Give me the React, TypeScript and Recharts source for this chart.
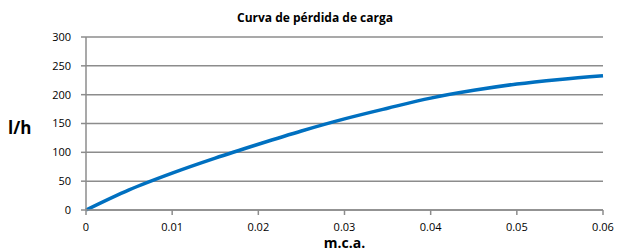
import React from 'react';
import { LineChart, Line, XAxis, YAxis, CartesianGrid } from 'recharts';

const xValues = [0, 0.005, 0.01, 0.015, 0.02, 0.025, 0.03, 0.035, 0.04, 0.045, 0.05, 0.055, 0.06];
const yValues = [0, 35, 64, 90, 114, 137, 158, 176.5, 194, 207.5, 218.5, 226.5, 233];
const xTicks = [0, 0.01, 0.02, 0.03, 0.04, 0.05, 0.06];
const yTicks = [0, 50, 100, 150, 200, 250, 300];
const title = 'Curva de pérdida de carga';
const xTitle = 'm.c.a.';
const yTitle = 'l/h';

const data = xValues.map((x, i) => ({ x, y: yValues[i] }));

const FONT = '"Open Sans", sans-serif';

export default function App() {
  return (
    <div style={{ position: 'absolute', left: 0, top: 0, width: 618, height: 252, background: '#fff' }}>
      <LineChart width={618} height={252} data={data} margin={{ top: 37, right: 15, bottom: 0, left: 0 }}>
        <text x={315} y={19} textAnchor="middle" dominantBaseline="middle" fontFamily={FONT} fontSize={12} fontWeight={700} fill="#000">
          {title}
        </text>
        <CartesianGrid horizontal={true} vertical={false} stroke="#8c8c8c" strokeWidth={1.5} />
        <XAxis
          dataKey="x"
          type="number"
          domain={[0, 0.06]}
          ticks={xTicks}
          height={42}
          tickSize={5}
          tickMargin={8}
          stroke="#8c8c8c"
          strokeWidth={1.5}
          tick={{ fill: '#000', fontSize: 11, fontFamily: FONT }}
          label={{ value: xTitle, position: 'insideBottom', offset: 4, fill: '#000', fontSize: 14, fontWeight: 700, fontFamily: FONT }}
        />
        <YAxis
          type="number"
          domain={[0, 300]}
          ticks={yTicks}
          width={86}
          tickSize={5}
          tickMargin={10}
          stroke="#8c8c8c"
          strokeWidth={1.5}
          tick={{ fill: '#000', fontSize: 11, fontFamily: FONT }}
          label={{ value: yTitle, position: 'insideLeft', offset: 8, dy: 4, fill: '#000', fontSize: 17, fontWeight: 700, fontFamily: FONT }}
        />
        <Line type="monotone" dataKey="y" stroke="#0070C0" strokeWidth={3.5} dot={false} isAnimationActive={false} />
      </LineChart>
    </div>
  );
}
